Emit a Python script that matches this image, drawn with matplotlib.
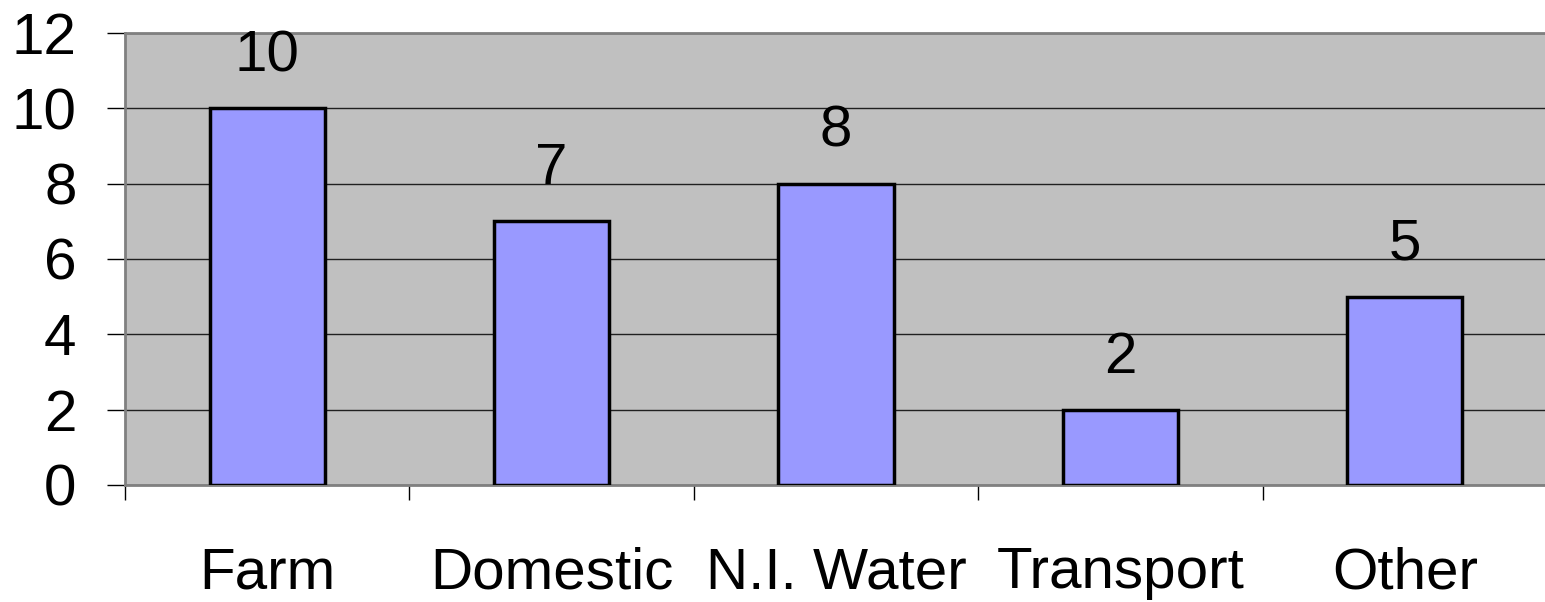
import numpy as np
import matplotlib.pyplot as plt

plt.rcParams['font.family'] = ['Liberation Sans', 'DejaVu Sans']

categories = ['Farm', 'Domestic', 'N.I. Water', 'Transport', 'Other']
counts = [10, 7, 8, 2, 5]
y_ticks = [0, 2, 4, 6, 8, 10, 12]

fig = plt.figure(figsize=(15.45, 6.02), dpi=100)
ax = fig.add_axes([125 / 1545, 1 - 485 / 602, 1422 / 1545, (485 - 33) / 602])

x = np.arange(len(categories))
bars = ax.bar(x, counts, width=0.405, color='#9999FF', edgecolor='black',
              linewidth=2.5, zorder=3)

for xi, v in zip(x, counts):
    ax.annotate(str(v), (xi, v), xytext=(0, 18), textcoords='offset points',
                ha='center', va='bottom', fontsize=42)

ax.set_facecolor('#C0C0C0')
ax.set_xlim(-0.5, len(categories) - 0.5)
ax.set_ylim(0, 12)
ax.set_yticks(y_ticks)
ax.set_yticklabels([str(t) for t in y_ticks], fontsize=42)
ax.yaxis.grid(True, color='#202020', linewidth=1.0, zorder=1)
ax.set_axisbelow(True)

ax.set_xticks(x)
ax.set_xticklabels(categories, fontsize=42)
ax.set_xticks(np.arange(len(categories) + 1) - 0.5, minor=True)
ax.tick_params(axis='x', which='major', length=0, pad=44)
ax.tick_params(axis='x', which='minor', length=11, width=1.0, color='black')
ax.tick_params(axis='y', length=13, width=1.0, color='black', pad=22)

for side in ['left', 'bottom', 'top']:
    ax.spines[side].set_color('#808080')
    ax.spines[side].set_linewidth(2)
ax.spines['right'].set_visible(False)

fig.savefig('out.png', dpi=100)
